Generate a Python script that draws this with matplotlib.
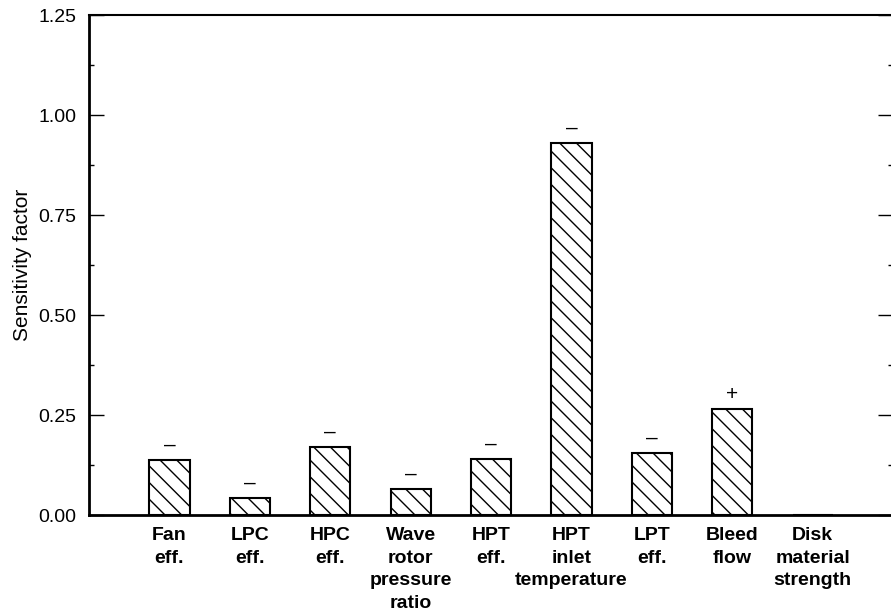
#!/usr/bin/env python3
"""
Sensitivity factors bar chart (hatched bars with sign markers)
"""

import matplotlib
matplotlib.use('Agg')
import matplotlib.pyplot as plt
from matplotlib.ticker import MultipleLocator

# Data
categories = ['Fan\neff.', 'LPC\neff.', 'HPC\neff.', 'Wave\nrotor\npressure\nratio',
              'HPT\neff.', 'HPT\ninlet\ntemperature', 'LPT\neff.', 'Bleed\nflow',
              'Disk\nmaterial\nstrength']
sensitivity = [0.138, 0.042, 0.17, 0.065, 0.14, 0.93, 0.155, 0.265, 0.0]
signs = ['\u2013', '\u2013', '\u2013', '\u2013', '\u2013', '\u2013', '\u2013', '+', '']
y_ticks = [0.0, 0.25, 0.5, 0.75, 1.0, 1.25]

plt.rcParams['font.family'] = ['Liberation Sans', 'DejaVu Sans']
plt.rcParams['hatch.linewidth'] = 1.0


def main():
    fig = plt.figure(figsize=(8.91, 6.15), dpi=100)
    ax = fig.add_axes([89 / 891, 100 / 615, 804 / 891, 500 / 615])

    x = list(range(len(categories)))
    ax.bar(x, sensitivity, width=0.5, color='white', edgecolor='black',
           linewidth=1.5, hatch='\\\\')

    # sign markers above each bar
    for xi, val, s in zip(x, sensitivity, signs):
        if s:
            ax.text(xi, val + 0.037, s, ha='center', va='center', fontsize=15)

    ax.set_xlim(-1.0, 9.0)
    ax.set_ylim(0, 1.25)
    ax.set_xticks(x)
    ax.set_xticklabels(categories, fontsize=14, fontweight='bold', linespacing=1.42)
    ax.tick_params(axis='x', length=0, pad=9)

    ax.set_yticks(y_ticks)
    ax.set_yticklabels(['%.2f' % t for t in y_ticks], fontsize=14)
    ax.yaxis.set_minor_locator(MultipleLocator(0.125))
    ax.tick_params(axis='y', which='major', direction='in', length=11, width=1.0,
                   right=True, pad=9)
    ax.tick_params(axis='y', which='minor', direction='in', length=3.5, width=1.0,
                   right=True)
    ax.set_ylabel('Sensitivity factor', fontsize=15, labelpad=5)

    for side in ['left', 'bottom']:
        ax.spines[side].set_linewidth(2.0)
    ax.spines['top'].set_linewidth(1.5)

    fig.savefig('out.png', dpi=100)
    plt.close(fig)


if __name__ == "__main__":
    main()
